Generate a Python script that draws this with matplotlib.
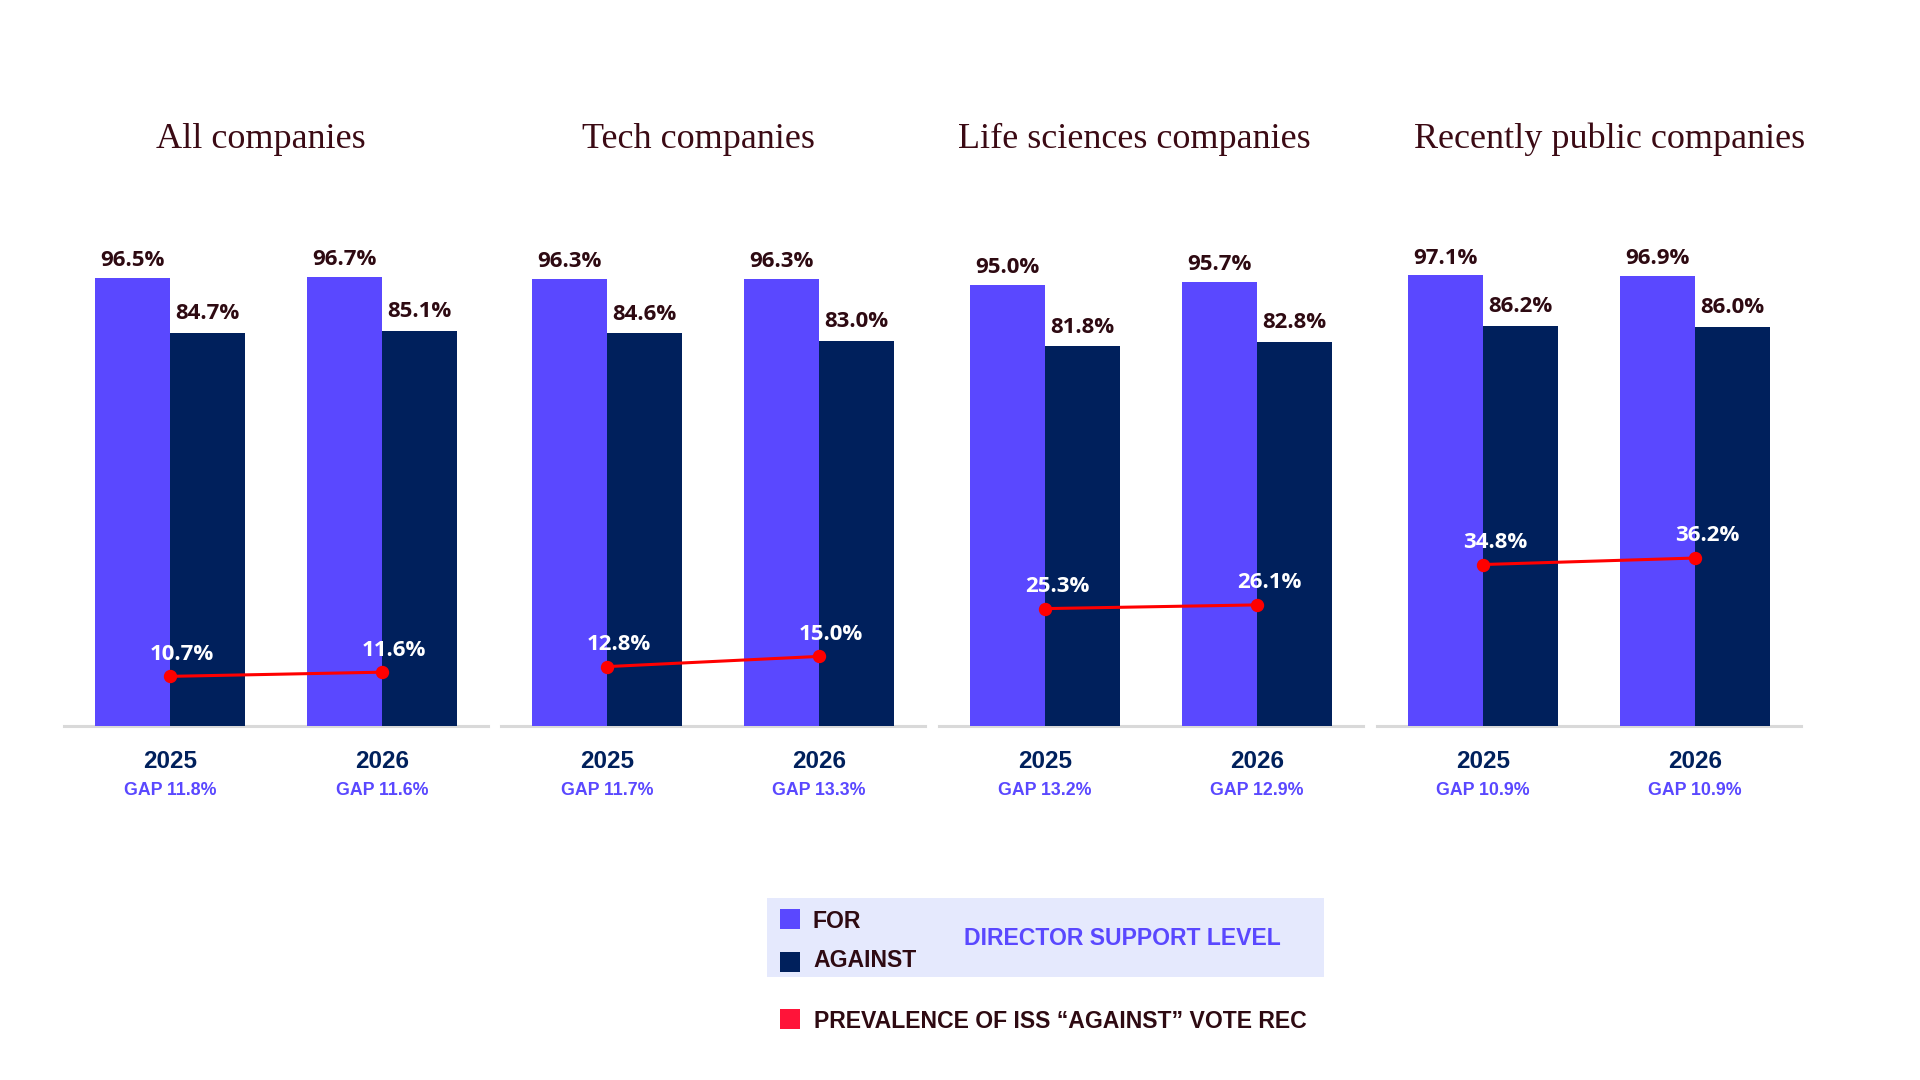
import matplotlib
matplotlib.use("Agg")
import matplotlib.pyplot as plt
from matplotlib.patches import Rectangle
from matplotlib.transforms import blended_transform_factory
import numpy as np

# data
groups = ["All companies", "Tech companies", "Life sciences companies", "Recently public companies"]
years = ["2025", "2026"]
for_vals = [[96.5, 96.7], [96.3, 96.3], [95.0, 95.7], [97.1, 96.9]]
against_vals = [[84.7, 85.1], [84.6, 83.0], [81.8, 82.8], [86.2, 86.0]]
iss_vals = [[10.7, 11.6], [12.8, 15.0], [25.3, 26.1], [34.8, 36.2]]
gap_vals = [[11.8, 11.6], [11.7, 13.3], [13.2, 12.9], [10.9, 10.9]]

FOR_C = "#5A48FF"
AGAINST_C = "#00205C"
RED = "#FF0000"
DARK = "#2E0A12"
TITLE_C = "#3B0A14"
BOX_C = "#E5E9FD"

W, H = 1920, 1080
fig = plt.figure(figsize=(19.2, 10.8), dpi=100)
fig.patch.set_facecolor("white")

panel_left = [64, 501, 939, 1377]
panel_w = 424
title_x = [261, 698, 1134, 1610]
base_y = 726
bw = 0.354
x = np.arange(len(years))

for g, name in enumerate(groups):
    ax = fig.add_axes([panel_left[g] / W, 1 - base_y / H, panel_w / W, 464 / H])
    ax.set_xlim(-0.5, 1.5)
    ax.set_ylim(0, 100)
    ax.axis("off")

    ax.bar(x - bw / 2, for_vals[g], width=bw, color=FOR_C, zorder=2)
    ax.bar(x + bw / 2, against_vals[g], width=bw, color=AGAINST_C, zorder=2)
    ax.axhline(0, color="#D9D9D9", lw=2.2, zorder=1, clip_on=False)

    ax.plot(x, iss_vals[g], color=RED, lw=2.2, marker="o", markersize=8.6, zorder=4)

    for i in range(len(years)):
        ax.annotate(f"{for_vals[g][i]:.1f}%", (x[i] - bw / 2, for_vals[g][i]),
                    xytext=(0, 8.6), textcoords="offset points", ha="center", va="baseline",
                    fontsize=16, fontweight="bold", family="Open Sans", color=DARK)
        ax.annotate(f"{against_vals[g][i]:.1f}%", (x[i] + bw / 2, against_vals[g][i]),
                    xytext=(0, 10), textcoords="offset points", ha="center", va="baseline",
                    fontsize=16, fontweight="bold", family="Open Sans", color=DARK)
        ax.annotate(f"{iss_vals[g][i]:.1f}%", (x[i], iss_vals[g][i]),
                    xytext=(8.6, 12), textcoords="offset points", ha="center", va="baseline",
                    fontsize=16, fontweight="bold", family="Open Sans", color="white", zorder=5)

        tr = blended_transform_factory(ax.transData, fig.transFigure)
        ax.text(x[i], 1 - 768 / H, years[i], transform=tr, ha="center", va="baseline",
                fontsize=17.5, fontweight="bold", family="Liberation Sans", color=AGAINST_C)
        ax.text(x[i], 1 - 795 / H, f"GAP {gap_vals[g][i]:.1f}%", transform=tr, ha="center",
                va="baseline", fontsize=12.8, fontweight="bold", family="Liberation Sans", color=FOR_C)

    fig.text(title_x[g] / W, 1 - 148 / H, name, ha="center", va="baseline",
             fontsize=26, family="Liberation Serif", color=TITLE_C)

# legend
fig.patches.append(Rectangle((767 / W, 1 - 977 / H), 557 / W, 79 / H,
                             transform=fig.transFigure, facecolor=BOX_C, edgecolor="none"))
for yc, col in [(919, FOR_C), (962, AGAINST_C), (1019, "#FF1439")]:
    fig.patches.append(Rectangle((780 / W, 1 - (yc + 10) / H), 20 / W, 20 / H,
                                 transform=fig.transFigure, facecolor=col, edgecolor="none"))

leg_font = dict(fontsize=16.6, fontweight="bold", family="Liberation Sans", va="baseline", ha="left")
fig.text(813 / W, 1 - 928 / H, "FOR", color=DARK, **leg_font)
fig.text(813 / W, 1 - 967 / H, "AGAINST", color=DARK, **leg_font)
fig.text(964 / W, 1 - 945 / H, "DIRECTOR SUPPORT LEVEL", color=FOR_C, **leg_font)
fig.text(814 / W, 1 - 1028 / H, "PREVALENCE OF ISS \u201cAGAINST\u201d VOTE REC", color=DARK, **leg_font)

fig.savefig("out.png", dpi=100, facecolor="white")
